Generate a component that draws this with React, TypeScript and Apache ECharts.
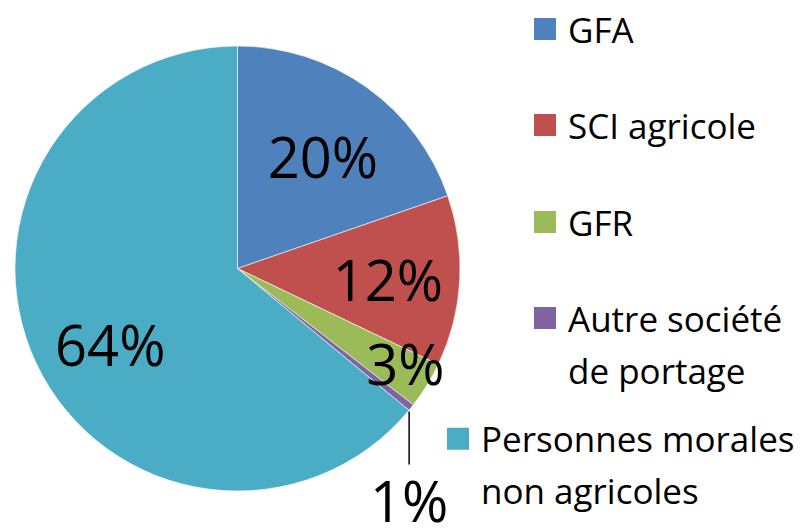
import React, { useEffect, useRef } from "react";
import * as echarts from "echarts";

// ---- data ----
const categories = [
  "GFA",
  "SCI agricole",
  "GFR",
  "Autre société\nde portage",
  "Personnes morales\nnon agricoles",
];
const shares = [19.7, 12.4, 3.4, 0.5, 64.0];
const colors = ["#4F81BD", "#C0504D", "#9BBB59", "#8064A2", "#4BACC6"];

// ---- layout / style (not data) ----
const CX = 237.5;
const CY = 268.5;
const R = 222.5;
const FONT = "'Open Sans', 'Noto Sans', sans-serif";
const labelPlacement: ({ k: number; shift: number } | null)[] = [
  { k: 0.635, shift: 1.7 },
  { k: 0.678, shift: 0.8 },
  { k: 0.866, shift: -2.3 },
  null,
  { k: 0.665, shift: -5.5 },
];
const legendLeft = [532, 532, 532, 532, 445];
const legendTop = [3, 99, 196, 240, 360.7];
const legendTwoLine = [false, false, false, true, true];

export default function App() {
  const ref = useRef<HTMLDivElement>(null);

  useEffect(() => {
    if (!ref.current) return;
    const chart = echarts.init(ref.current, undefined, { renderer: "svg" });

    const legends = categories.map((name, i) => ({
      data: [{ name, icon: "rect" }],
      left: legendLeft[i],
      top: legendTop[i],
      orient: "vertical",
      padding: 0,
      itemWidth: 24,
      itemHeight: 24,
      selectedMode: false,
      // a leading empty line puts the first text line level with the marker
      formatter: (n: string) => (legendTwoLine[i] ? "\n" + n : n),
      textStyle: {
        fontSize: 35,
        fontFamily: FONT,
        color: "#000",
        lineHeight: 52,
        padding: [0, 0, 0, 6],
      },
    }));

    chart.setOption({
      animation: false,
      backgroundColor: "#fff",
      color: colors,
      legend: legends,
      series: [
        {
          type: "pie",
          center: [CX, CY],
          radius: [0, R],
          startAngle: 90,
          clockwise: true,
          percentPrecision: 0,
          avoidLabelOverlap: false,
          emphasis: { disabled: true },
          itemStyle: { borderColor: "#ffffff", borderWidth: 0.6 },
          label: {
            show: true,
            position: "inside",
            formatter: "{d}%",
            fontSize: 56,
            fontFamily: FONT,
            color: "#000",
          },
          labelLine: { show: false },
          labelLayout: (params: any) => {
            const i = params.dataIndex;
            const rect = params.labelRect;
            const p = labelPlacement[i];
            if (p) {
              const lx = rect.x + rect.width / 2;
              const ly = rect.y + rect.height / 2;
              const theta =
                Math.atan2(lx - CX, -(ly - CY)) + (p.shift * Math.PI) / 180;
              const d = p.k * R;
              return {
                x: CX + d * Math.sin(theta),
                y: CY - d * Math.cos(theta),
                align: "center",
                verticalAlign: "middle",
              };
            }
            const pts = params.labelLinePoints;
            if (!pts) return {};
            const x0 = pts[0][0];
            const y0 = pts[0][1];
            const lineX = x0 - 2;
            return {
              x: lineX,
              y: y0 + 92,
              align: "center",
              verticalAlign: "middle",
              labelLinePoints: [
                [lineX, y0 + 4],
                [lineX, y0 + 57],
                [lineX, y0 + 57],
              ],
            };
          },
          data: categories.map((name, i) => {
            const item: any = { name, value: shares[i] };
            if (labelPlacement[i] === null) {
              item.label = { position: "outside", lineHeight: 48 };
              item.labelLine = {
                show: true,
                length: 20,
                length2: 10,
                lineStyle: { color: "#000", width: 1.5 },
              };
            }
            return item;
          }),
        },
      ],
    });

    return () => chart.dispose();
  }, []);

  return (
    <div
      ref={ref}
      style={{ position: "fixed", left: 0, top: 0, width: 812, height: 532 }}
    />
  );
}
